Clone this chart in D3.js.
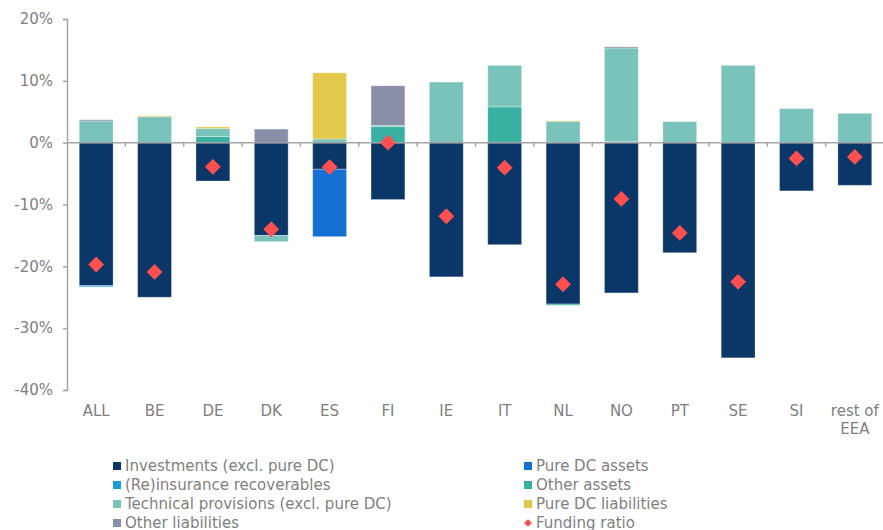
<!DOCTYPE html>
<html>
<head>
<meta charset="utf-8">
<script src="https://cdn.jsdelivr.net/npm/d3@7"></script>
<style>
  body { margin: 0; background: #fff; }
  text { font-family: "DejaVu Sans", Verdana, sans-serif; fill: #7f7f7f; }
</style>
</head>
<body>
<svg id="chart" width="883" height="530"></svg>
<script>
const categories = ["ALL", "BE", "DE", "DK", "ES", "FI", "IE", "IT", "NL", "NO", "PT", "SE", "SI", "rest of EEA"];

// values in % of total
const investments    = [-23.1, -25.0, -6.2, -15.0, -4.3, -9.2, -21.7, -16.5, -26.1, -24.3, -17.8, -34.8, -7.8, -6.9];
const pureDcAssets   = [-0.1, 0, 0, 0, -10.9, 0, 0, 0, 0, 0, 0, 0, 0, 0];
const reinsurance    = [-0.15, 0, 0, 0, 0, 0, 0, 0, 0, 0, 0, 0, 0, 0];
const otherAssets    = [0, 0, 1.0, 0, 0, 2.6, 0, 5.8, -0.2, 0.2, 0, 0, 0, 0];
const techProvisions = [3.5, 4.2, 1.3, -1.0, 0.6, 0.2, 9.8, 6.7, 3.45, 15.1, 3.4, 12.5, 5.5, 4.75];
const pureDcLiabs    = [0, 0.15, 0.25, 0, 10.7, 0, 0, 0, 0.1, 0, 0, 0, 0, 0];
const otherLiabs     = [0.2, 0, 0, 2.2, 0, 6.4, 0, 0, 0, 0.2, 0, 0, 0, 0];
const fundingRatio   = [-19.7, -20.9, -3.9, -14.0, -3.95, 0.0, -11.9, -4.05, -22.9, -9.1, -14.6, -22.5, -2.55, -2.3];

const yTicks = [20, 10, 0, -10, -20, -30, -40];

const series = [
  {key: "inv",  name: "Investments (excl. pure DC)",          color: "#0a3668", values: investments},
  {key: "pdca", name: "Pure DC assets",                       color: "#1570d3", values: pureDcAssets},
  {key: "rein", name: "(Re)insurance recoverables",           color: "#1a9be0", values: reinsurance},
  {key: "oa",   name: "Other assets",                         color: "#38b0a2", values: otherAssets},
  {key: "tp",   name: "Technical provisions (excl. pure DC)", color: "#79c3ba", values: techProvisions},
  {key: "pdcl", name: "Pure DC liabilities",                  color: "#e2c94b", values: pureDcLiabs},
  {key: "ol",   name: "Other liabilities",                    color: "#8790a8", values: otherLiabs}
];

const svg = d3.select("#chart");
const axisColor = "#a6a6a6";

const x = d3.scaleBand()
  .domain(categories)
  .range([67, 884])
  .paddingInner(0.42)
  .paddingOuter(0.21);

const y = d3.scaleLinear()
  .domain([-40, 20])
  .range([390, 19]);

const rows = categories.map((c, i) => {
  const row = {cat: c};
  series.forEach(s => { row[s.key] = s.values[i]; });
  return row;
});

const stacked = d3.stack()
  .keys(series.map(s => s.key))
  .offset(d3.stackOffsetDiverging)(rows);

const layers = svg.append("g")
  .selectAll("g")
  .data(stacked)
  .join("g")
  .attr("fill", (d, i) => series[i].color);

layers.selectAll("rect")
  .data(d => d.filter(p => p[1] !== p[0]))
  .join("rect")
  .attr("x", d => x(d.data.cat))
  .attr("width", x.bandwidth())
  .attr("y", d => y(Math.max(d[0], d[1])))
  .attr("height", d => Math.abs(y(d[0]) - y(d[1])))
  .attr("stroke", "#ffffff")
  .attr("stroke-opacity", 0.3)
  .attr("stroke-width", 1);

// y axis
const yAxis = svg.append("g")
  .attr("transform", "translate(67,0)")
  .call(d3.axisLeft(y).tickValues(yTicks).tickSize(4).tickFormat(d => d + "%"));
yAxis.select(".domain").attr("stroke", axisColor).attr("stroke-width", 1.5);
yAxis.selectAll(".tick line").attr("stroke", axisColor).attr("stroke-width", 1.5);
yAxis.selectAll(".tick text")
  .attr("x", -14)
  .attr("font-size", 15)
  .attr("font-family", "DejaVu Sans, Verdana, sans-serif")
  .attr("fill", "#7f7f7f");

// x axis line at zero, with ticks between categories
const step = x.step();
const xg = svg.append("g");
xg.append("line")
  .attr("x1", 67).attr("x2", 884)
  .attr("y1", y(0)).attr("y2", y(0))
  .attr("stroke", axisColor).attr("stroke-width", 1.5);
xg.selectAll(".xt")
  .data(categories)
  .join("line")
  .attr("x1", d => x(d) + x.bandwidth() + x.paddingInner() * step / 2)
  .attr("x2", d => x(d) + x.bandwidth() + x.paddingInner() * step / 2)
  .attr("y1", y(0))
  .attr("y2", y(0) + 4)
  .attr("stroke", axisColor).attr("stroke-width", 1.5);

// category labels
const catLabels = svg.append("g")
  .selectAll("text")
  .data(categories)
  .join("text")
  .attr("x", d => x(d) + x.bandwidth() / 2)
  .attr("y", 416)
  .attr("text-anchor", "middle")
  .attr("font-size", 15);
catLabels.each(function(d) {
  const t = d3.select(this);
  const parts = d === "rest of EEA" ? ["rest of", "EEA"] : [d];
  parts.forEach((p, j) => {
    t.append("tspan")
      .attr("x", x(d) + x.bandwidth() / 2)
      .attr("dy", j === 0 ? 0 : 18)
      .text(p);
  });
});

// funding ratio diamonds
svg.append("g")
  .selectAll("path")
  .data(fundingRatio)
  .join("path")
  .attr("transform", (d, i) => `translate(${x(categories[i]) + x.bandwidth() / 2},${y(d)}) rotate(45)`)
  .attr("d", d3.symbol(d3.symbolSquare, 125)())
  .attr("fill", "#ff4f4f");

// legend
const legendItems = [
  {name: series[0].name, color: series[0].color, col: 0, row: 0},
  {name: series[1].name, color: series[1].color, col: 1, row: 0},
  {name: series[2].name, color: series[2].color, col: 0, row: 1},
  {name: series[3].name, color: series[3].color, col: 1, row: 1},
  {name: series[4].name, color: series[4].color, col: 0, row: 2},
  {name: series[5].name, color: series[5].color, col: 1, row: 2},
  {name: series[6].name, color: series[6].color, col: 0, row: 3},
  {name: "Funding ratio", color: "#ff4f4f", col: 1, row: 3, diamond: true}
];
const colX = [113, 524];

const legend = svg.append("g")
  .selectAll("g")
  .data(legendItems)
  .join("g")
  .attr("transform", d => `translate(${colX[d.col]},${466 + d.row * 19})`);

legend.filter(d => !d.diamond).append("rect")
  .attr("x", 0).attr("y", -4)
  .attr("width", 8).attr("height", 8)
  .attr("fill", d => d.color);

legend.filter(d => d.diamond).append("path")
  .attr("transform", "translate(4,0) rotate(45)")
  .attr("d", d3.symbol(d3.symbolSquare, 30)())
  .attr("fill", d => d.color);

legend.append("text")
  .attr("x", 12)
  .attr("y", 0)
  .attr("dy", "0.36em")
  .attr("font-size", 15)
  .text(d => d.name);
</script>
</body>
</html>
